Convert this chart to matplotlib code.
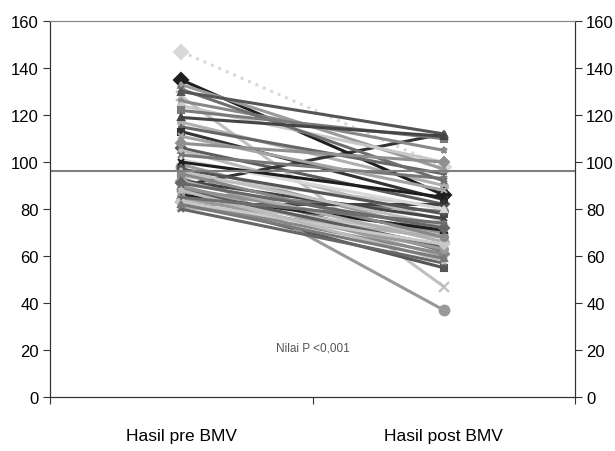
import matplotlib
matplotlib.use("Agg")
import matplotlib.pyplot as plt

categories = ["Hasil pre BMV", "Hasil post BMV"]
pre = [147, 135, 133, 131, 130, 128, 126, 124, 122, 119, 117, 115, 113, 111,
       108, 106, 105, 103, 101, 100, 99, 98, 97, 96, 95, 94, 93, 92, 92, 91,
       90, 90, 89, 88, 88, 87, 86, 86, 85, 85, 84, 84, 83, 83, 82, 82, 81, 80]
post = [98, 86, 97, 92, 112, 47, 105, 100, 110, 111, 90, 95, 84, 88,
        100, 82, 75, 93, 80, 85, 70, 37, 78, 73, 68, 81, 62, 76, 66, 72,
        112, 60, 70, 64, 58, 79, 67, 71, 63, 74, 55, 69, 61, 65, 59, 82, 68, 57]
ref_value = 96
yticks = [0, 20, 40, 60, 80, 100, 120, 140, 160]
note = "Nilai P <0,001"

plt.rcParams['font.family'] = ['Liberation Sans', 'DejaVu Sans']
fig = plt.figure(figsize=(6.15, 4.52), dpi=100)
ax = fig.add_axes([0.0813, 0.1195, 0.8537, 0.8315])

grays = ['#d8d8d8', '#1e1e1e', '#9a9a9a', '#6e6e6e', '#555555', '#c0c0c0',
         '#888888', '#c8c8c8', '#7a7a7a', '#444444', '#b0b0b0', '#666666',
         '#333333', '#a4a4a4', '#909090', '#5c5c5c', '#bbbbbb', '#777777']
markers = ['D', 'D', '^', 'x', '^', 'x', '*', 'o', 's', '^', 'o', '+', 's', 'x']
for i, (a, b) in enumerate(zip(pre, post)):
    c = grays[i % len(grays)]
    m = markers[i % len(markers)]
    if b == 37:
        c, m = '#999999', 'o'
    ls = ':' if i == 0 else '-'
    ms = 7 if m in ('o', 'D', 'x') and i in (0, 1, 5, 21) else 5
    ax.plot([0.5, 1.5], [a, b], color=c, lw=2.2, ls=ls, marker=m, ms=ms,
            mec=c, mfc=c, mew=1.5, zorder=2 + (i % 5))

ax.axhline(ref_value, color='#7f7f7f', lw=1.5, zorder=10)
ax.set_xlim(0, 2)
ax.set_ylim(0, 160)
ax.set_yticks(yticks)
ax.set_xticks([0, 1, 2])
ax.set_xticklabels([])
ax.tick_params(axis='x', direction='out', length=5, color='#333333')
ax.tick_params(axis='y', direction='out', length=5, labelsize=12, pad=3,
               color='#333333')
for x, lab in zip([0.5, 1.5], categories):
    ax.text(x, -16.5, lab, ha='center', va='center', fontsize=12.5)
ax.text(1.0, 21, note, ha='center', va='center', fontsize=8.5, color='#555555')

ax2 = ax.twinx()
ax2.set_ylim(0, 160)
ax2.set_yticks(yticks)
ax2.tick_params(axis='y', direction='out', length=5, labelsize=12, pad=3,
                color='#333333')

for a in (ax, ax2):
    a.spines['top'].set_color('#888888')
    a.spines['left'].set_color('#333333')
    a.spines['right'].set_color('#333333')
    a.spines['bottom'].set_color('#333333')

fig.savefig("out.png", dpi=100)
